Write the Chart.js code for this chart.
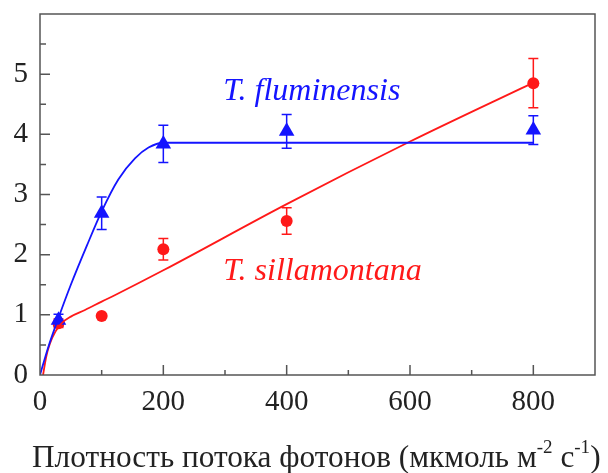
<!DOCTYPE html>
<html>
<head>
<meta charset="utf-8">
<script src="https://cdn.jsdelivr.net/npm/chart.js@4"></script>
<style>
  html, body { margin:0; padding:0; background:#fff; }
  #wrap { position:relative; width:608px; height:473px; }
  #xtitle {
    position:absolute; left:32px; top:441px; white-space:nowrap;
    font-family:"Liberation Serif","Times New Roman",serif; font-size:31.3px; line-height:32px; color:#222;
  }
  #xtitle sup { font-size:19px; vertical-align:0; position:relative; top:-14px; }
</style>
</head>
<body>
<div id="wrap">
  <canvas id="chart" width="608" height="473"></canvas>
  <div id="xtitle">Плотность потока фотонов (мкмоль м<sup>-2</sup> с<sup>-1</sup>)</div>
</div>
<script>
// измеренные точки
const ppfd = [30, 100, 200, 400, 800];
const flumValues = [0.91, 2.69, 3.84, 4.05, 4.07];
const flumErrors = [0.10, 0.27, 0.31, 0.28, 0.24];
const sillValues = [0.86, 0.98, 2.09, 2.56, 4.85];
const sillErrors = [0.07, 0, 0.18, 0.22, 0.41];

// кривые аппроксимации
const flumFitX = [0, 13, 30, 50, 76, 100, 127, 154, 176, 200, 800];
const flumFitY = [0, 0.45, 0.95, 1.5, 2.15, 2.72, 3.25, 3.6, 3.78, 3.86, 3.86];
const sillFitX = [5, 10, 16, 25, 35, 50, 73, 100, 122, 200, 400, 600, 800];
const sillFitY = [0, 0.30, 0.52, 0.72, 0.86, 0.97, 1.08, 1.22, 1.33, 1.74, 2.84, 3.88, 4.86];

const xTicks = [0, 200, 400, 600, 800];
const yTicks = [0, 1, 2, 3, 4, 5];

const BLUE = 'rgb(20,20,255)';
const RED = 'rgb(255,25,25)';
const AXIS = '#555';
const SERIF = '"Liberation Serif","Times New Roman",serif';

const toPts = (xs, ys) => xs.map((x,i)=>({x:x, y:ys[i]}));

// планки погрешностей
const errorBars = {
  id:'errorBars',
  beforeDatasetsDraw(chart){
    const ctx = chart.ctx;
    const xs = chart.scales.x, ys = chart.scales.y;
    chart.data.datasets.forEach(ds=>{
      if(!ds.errors) return;
      ctx.save();
      ctx.strokeStyle = ds.borderColor;
      ctx.lineWidth = 1.5;
      ds.data.forEach((p,i)=>{
        const e = ds.errors[i];
        if(!e) return;
        const px = xs.getPixelForValue(p.x);
        const top = ys.getPixelForValue(p.y + e);
        const bot = ys.getPixelForValue(p.y - e);
        ctx.beginPath();
        ctx.moveTo(px, top); ctx.lineTo(px, bot);
        ctx.moveTo(px-5, top); ctx.lineTo(px+5, top);
        ctx.moveTo(px-5, bot); ctx.lineTo(px+5, bot);
        ctx.stroke();
      });
      ctx.restore();
    });
  }
};

// рамка и внутренние риски
const frame = {
  id:'frame',
  afterDraw(chart){
    const ctx = chart.ctx, a = chart.chartArea;
    const xs = chart.scales.x, ys = chart.scales.y;
    ctx.save();
    ctx.strokeStyle = AXIS;
    ctx.lineWidth = 1.5;
    ctx.strokeRect(a.left, a.top, a.right-a.left, a.bottom-a.top);
    ctx.beginPath();
    for(let v=100; v<900; v+=100){
      const px = xs.getPixelForValue(v);
      const len = v % 200 === 0 ? 10 : 5;
      ctx.moveTo(px, a.bottom); ctx.lineTo(px, a.bottom-len);
    }
    for(let v=0.5; v<6; v+=0.5){
      const py = ys.getPixelForValue(v);
      const len = Number.isInteger(v) ? 10 : 6;
      ctx.moveTo(a.left, py); ctx.lineTo(a.left+len, py);
    }
    ctx.stroke();

    // подписи видов
    ctx.font = 'italic 32px ' + SERIF;
    ctx.textBaseline = 'alphabetic';
    ctx.textAlign = 'left';
    ctx.fillStyle = BLUE;
    ctx.fillText('T. fluminensis', xs.getPixelForValue(297), ys.getPixelForValue(4.57));
    ctx.fillStyle = RED;
    ctx.fillText('T. sillamontana', xs.getPixelForValue(297), ys.getPixelForValue(1.58));
    ctx.restore();
  }
};

new Chart(document.getElementById('chart'), {
  type:'scatter',
  data:{
    datasets:[
      {label:'fit fluminensis', data:toPts(flumFitX, flumFitY), showLine:true, pointRadius:0,
       borderColor:BLUE, borderWidth:1.8, cubicInterpolationMode:'monotone'},
      {label:'fit sillamontana', data:toPts(sillFitX, sillFitY), showLine:true, pointRadius:0,
       borderColor:RED, borderWidth:1.8, cubicInterpolationMode:'monotone'},
      {label:'T. fluminensis', data:toPts(ppfd, flumValues), errors:flumErrors, pointStyle:'triangle',
       pointRadius:9, backgroundColor:BLUE, borderColor:BLUE, borderWidth:0},
      {label:'T. sillamontana', data:toPts(ppfd, sillValues), errors:sillErrors, pointStyle:'circle',
       pointRadius:6, backgroundColor:RED, borderColor:RED, borderWidth:0}
    ]
  },
  options:{
    responsive:false,
    animation:false,
    layout:{padding:{top:14, right:13, left:0, bottom:0}},
    plugins:{legend:{display:false}, tooltip:{enabled:false}},
    scales:{
      x:{
        type:'linear', min:0, max:900,
        afterFit: s => { s.height = 98; s.paddingLeft = 0; s.paddingRight = 0; },
        afterBuildTicks: s => { s.ticks = xTicks.map(v=>({value:v})); },
        grid:{display:false, drawTicks:false},
        border:{display:false},
        ticks:{color:'#222', padding:10, maxRotation:0, autoSkip:false,
               font:{family:SERIF, size:29}}
      },
      y:{
        type:'linear', min:0, max:6,
        afterFit: s => { s.width = 40; s.paddingTop = 0; s.paddingBottom = 0; },
        afterBuildTicks: s => { s.ticks = yTicks.map(v=>({value:v})); },
        grid:{display:false, drawTicks:false},
        border:{display:false},
        ticks:{color:'#222', padding:12, autoSkip:false,
               font:{family:SERIF, size:29}}
      }
    }
  },
  plugins:[errorBars, frame]
});
</script>
</body>
</html>
